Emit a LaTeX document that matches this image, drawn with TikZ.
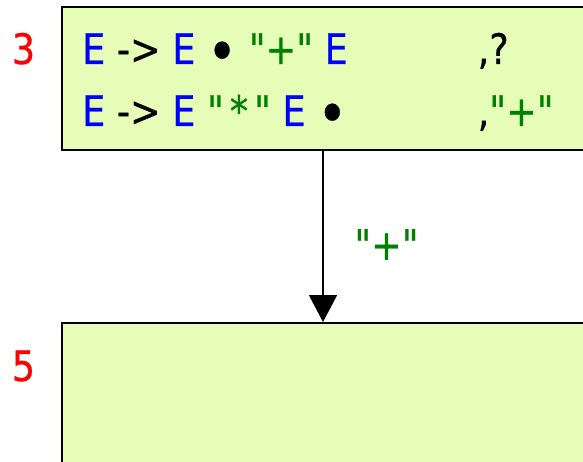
\documentclass[tikz,border=0pt]{standalone}
\usepackage{fontspec}
\setmainfont{DejaVu Sans}[FakeStretch=0.87, FakeBold=0.6, Ligatures=TeXOff]
\usepackage{xcolor}
\usetikzlibrary{arrows.meta,calc,positioning}
\definecolor{statefill}{RGB}{229,253,182}
\definecolor{termgreen}{RGB}{0,128,0}
\newcommand{\ntsym}[1]{\textcolor{blue}{#1}}
\newcommand{\tsym}[1]{\textcolor{termgreen}{#1}}
\newcommand{\itemdot}{\raisebox{-8pt}{\scalebox{1.4}{\textbullet}}}
\newcommand{\starsym}{\hspace{6pt}*\hspace{6pt}}
\tikzset{%
	state/.style    = {draw, line width=2pt, fill=statefill, rectangle, anchor=north west, minimum width=560pt, minimum height=143pt}, % LR state
	item/.style     = {inner sep=0pt, anchor=base west}, % Item text
	statenum/.style = {inner sep=0pt, anchor=base, text=red}, % State number
	edgelabel/.style = {inner sep=0pt, anchor=base, text=termgreen}, % Label
}

\begin{document}
\begin{tikzpicture}[x=1pt, y=-1pt, font=\fontsize{42}{62}\selectfont]
	\useasboundingbox (0,0) rectangle (583,462);
	\clip (0,0) rectangle (583,462);
	\node[state] (s3) at (61,6) {};
	\node[state] (s5) at (61,322) {};
	\node[statenum] (n3) at (23.5,64) {3};
	\node[statenum] (n5) at (23.5,381) {5};
	\node[item] (i1) at (82,64) {\ntsym{E} -> \ntsym{E} \itemdot{} \tsym{"+"} \ntsym{E}};
	\node[item] (i2) at (82,126) {\ntsym{E} -> \ntsym{E} \tsym{"\starsym"} \ntsym{E} \itemdot};
	\node[item] (la1) at (477.5,64) {,?};
	\node[item] (la2) at (477.5,126) {,\tsym{"+"}};
	\coordinate (m) at (323,0);
	\draw[line width=2pt, -{Triangle[width=28pt,length=27pt]}] (m |- s3.south) -- node[edgelabel, pos=0.636, xshift=63.5pt] {"+"} (m |- s5.north);
\end{tikzpicture}
\end{document}
